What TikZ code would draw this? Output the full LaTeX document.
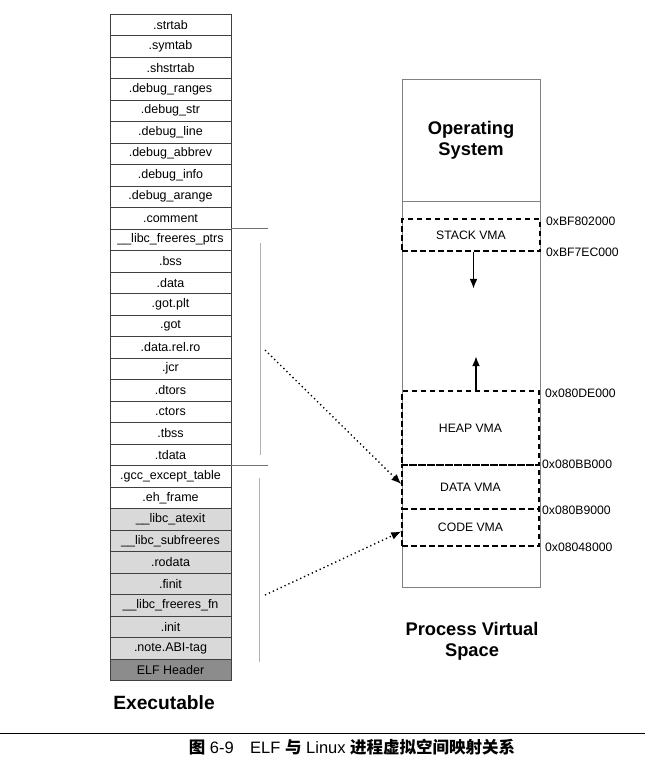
\documentclass[tikz,border=0pt]{standalone}
\usepackage{fontspec}
\setmainfont{Liberation Sans}
\newfontfamily\cjk{Noto Sans CJK SC}
\usetikzlibrary{arrows.meta}
\tikzset{
  rowbox/.style={draw=black!75, line width=0.6pt, minimum width=121pt, minimum height=21.5pt, inner sep=0pt, font=\fontsize{12.5}{14}\selectfont},
  vma/.style={draw=black, line width=1.6pt, dash pattern=on 5.5pt off 3.5pt, inner sep=0pt, font=\fontsize{12.2}{14}\selectfont},
  addr/.style={anchor=west, inner sep=0pt, font=\fontsize{12.2}{14}\selectfont},
  biglabel/.style={font=\fontsize{18.3}{21}\selectfont\bfseries, align=center, inner sep=0pt},
  dotarrow/.style={line width=1.4pt, dash pattern=on 1.3pt off 3pt, -{Latex[length=10pt,width=8pt]}},
  solidarrow/.style={line width=1.8pt, -{Latex[length=10pt,width=8pt]}},
  bracket/.style={black!55, line width=0.6pt},
  faint/.style={black!30, line width=0.8pt}
}
\begin{document}
\begin{tikzpicture}[x=1pt,y=-1pt]
\useasboundingbox (0,0) rectangle (645,779);
% left column
\foreach \lab [count=\i] in {.strtab,.symtab,.shstrtab,.debug\_ranges,.debug\_str,.debug\_line,.debug\_abbrev,.debug\_info,.debug\_arange,.comment,\_\_libc\_freeres\_ptrs,.bss,.data,.got.plt,.got,.data.rel.ro,.jcr,.dtors,.ctors,.tbss,.tdata,.gcc\_except\_table,.eh\_frame,\_\_libc\_atexit,\_\_libc\_subfreeres,.rodata,.finit,\_\_libc\_freeres\_fn,.init,.note.ABI-tag,ELF Header}{
  \ifnum\i=31
    \node[rowbox, fill=black!45] (r\i) at (170.5,{14+21.5*(\i-0.5)}) {\lab};
  \else\ifnum\i>23
    \node[rowbox, fill=black!15] (r\i) at (170.5,{14+21.5*(\i-0.5)}) {\lab};
  \else
    \node[rowbox] (r\i) at (170.5,{14+21.5*(\i-0.5)}) {\lab};
  \fi\fi
}
\node[biglabel, font=\fontsize{19.2}{22}\selectfont\bfseries] (exe) at (164,703) {Executable};
% bracket lines
\draw[bracket] (r11.north east) -- ++(37,0);
\draw[faint] (260,243) -- (260,455);
\draw[bracket] (r22.north east) -- ++(37,0);
\draw[faint] (259,478) -- (259,662);
\coordinate (dsrc) at (265,350);
\coordinate (csrc) at (265,595);
% right column
\draw[black!50, line width=0.6pt] (402,79) rectangle (540,587);
\node[draw=black!50, line width=0.6pt, minimum width=138pt, minimum height=122pt, inner sep=0pt] (os) at (471,140) {};
\node[biglabel] at (os.center) {Operating\\System};
\node[vma, minimum width=138pt, minimum height=32pt] (stack) at (471,235) {STACK VMA};
\node[vma, minimum width=137pt, minimum height=74pt] (heap) at (470.5,428) {HEAP VMA};
\node[vma, minimum width=137pt, minimum height=44pt] (data) at (470.5,487) {DATA VMA};
\node[vma, minimum width=137pt, minimum height=37pt] (code) at (470.5,527.5) {CODE VMA};
\node[addr] (a1) at (546,221) {0xBF802000};
\node[addr] (a2) at (546,252) {0xBF7EC000};
\node[addr] (a3) at (545,393) {0x080DE000};
\node[addr] (a4) at (542,464) {0x080BB000};
\node[addr] (a5) at (542,510) {0x080B9000};
\node[addr] (a6) at (545,547) {0x08048000};
\draw[solidarrow] ([xshift=2.5pt]stack.south) -- ++(0,37);
\draw[solidarrow] ([xshift=5.5pt]heap.north) -- ++(0,-34);
\draw[dotarrow] (dsrc) -- ([yshift=3pt]data.west);
\draw[dotarrow] (csrc) -- ([yshift=-4pt]code.west);
\node[biglabel] (pvs) at (472,641) {Process Virtual\\Space};
% caption
\draw[line width=0.8pt] (0,733) -- (645,733);
\node[inner sep=0pt, font=\fontsize{16.5}{19}\selectfont] (cap) at (352,747) {{\cjk\bfseries 图} 6-9\hspace{1em}ELF {\cjk\bfseries 与} Linux {\cjk\bfseries 进程虚拟空间映射关系}};
\end{tikzpicture}
\end{document}
